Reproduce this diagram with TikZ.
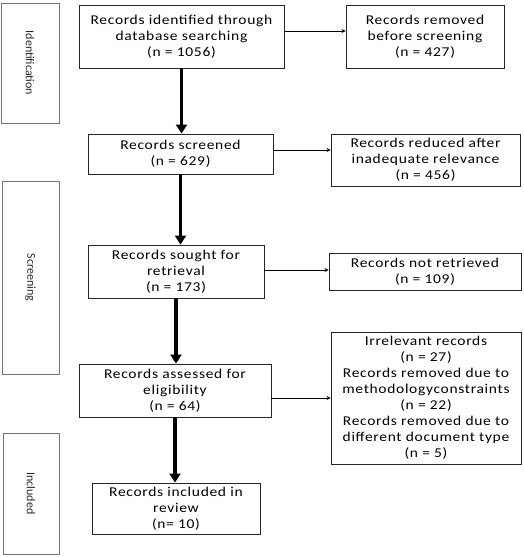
\documentclass[tikz,border=0pt]{standalone}
\usepackage{fontspec}
\setmainfont{Carlito}
\newfontfamily\boxfont[FakeStretch=1.15,LetterSpace=5]{Carlito}
\usetikzlibrary{arrows.meta,calc}
\begin{document}
\begin{tikzpicture}[x=1pt,y=-1pt,
  box/.style={draw=black!85,line width=0.9pt,align=center,inner sep=0pt,
    font=\boxfont\fontsize{13.5}{16}\selectfont,text=black},
  side/.style={draw=black!55,line width=0.8pt,inner sep=0pt},
  sidetext/.style={rotate=-90,font=\fontsize{12}{14}\selectfont,text=black!85},
  thick arrow/.style={line width=3.6pt,-{Triangle[width=11pt,length=9pt]}},
  thin arrow/.style={line width=0.8pt,-{Stealth[width=4pt,length=4pt]}}]
\useasboundingbox (0,0) rectangle (523,557);
% side labels
\node[side,minimum width=58pt,minimum height=120pt] (sid) at (30,63) {};
\node[sidetext] (tid) at (sid.center) {Identification};
\node[side,minimum width=57pt,minimum height=193pt] (ssc) at (30.5,277.5) {};
\node[sidetext] (tsc) at (ssc.center) {Screening};
\node[side,minimum width=56pt,minimum height=121pt] (sin) at (31,493.5) {};
\node[sidetext] (tin) at (sin.center) {Included};
% main boxes
\node[box,minimum width=205pt,minimum height=63pt] (b1) at (181.5,36.5) {Records identified through\\database searching\\(n = 1056)};
\node[box,minimum width=185pt,minimum height=40pt] (b2) at (180.5,154) {Records screened\\(n = 629)};
\node[box,minimum width=176pt,minimum height=53pt] (b3) at (176,271.5) {Records sought for\\retrieval\\(n = 173)};
\node[box,minimum width=192pt,minimum height=53pt] (b4) at (175,390.5) {Records assessed for\\eligibility\\(n = 64)};
\node[box,minimum width=168pt,minimum height=51pt] (b5) at (176,508.5) {Records included in\\review\\(n= 10)};
% right boxes
\node[box,minimum width=158pt,minimum height=63pt] (r1) at (425,36.5) {Records removed\\before screening\\(n = 427)};
\node[box,minimum width=189pt,minimum height=52pt] (r2) at (425.5,160) {Records reduced after\\inadequate relevance\\(n = 456)};
\node[box,minimum width=192pt,minimum height=37pt] (r3) at (425,271.5) {Records not retrieved\\(n = 109)};
\node[box,minimum width=190pt,minimum height=132pt] (r4) at (426,398) {Irrelevant records\\(n = 27)\\Records removed due to\\methodologyconstraints\\(n = 22)\\Records removed due to\\different document type\\(n = 5)};
% vertical arrows
\draw[thick arrow] (b1.south) -- (b1.south |- b2.north);
\draw[thick arrow] (b2.south) -- (b2.south |- b3.north);
\draw[thick arrow] (b3.south) -- (b3.south |- b4.north);
\draw[thick arrow] (b4.south) -- (b4.south |- b5.north);
% horizontal arrows
\draw[thin arrow] ([yshift=5.5pt]b1.east) -- ([yshift=5.5pt]b1.east -| r1.west);
\draw[thin arrow] ([yshift=4pt]b2.east) -- ([yshift=4pt]b2.east -| r2.west);
\draw[thin arrow] ([yshift=1.5pt]b3.east) -- ([yshift=1.5pt]b3.east -| r3.west);
\draw[thin arrow] (b4.east |- r4.west) -- (r4.west);
\end{tikzpicture}
\end{document}
